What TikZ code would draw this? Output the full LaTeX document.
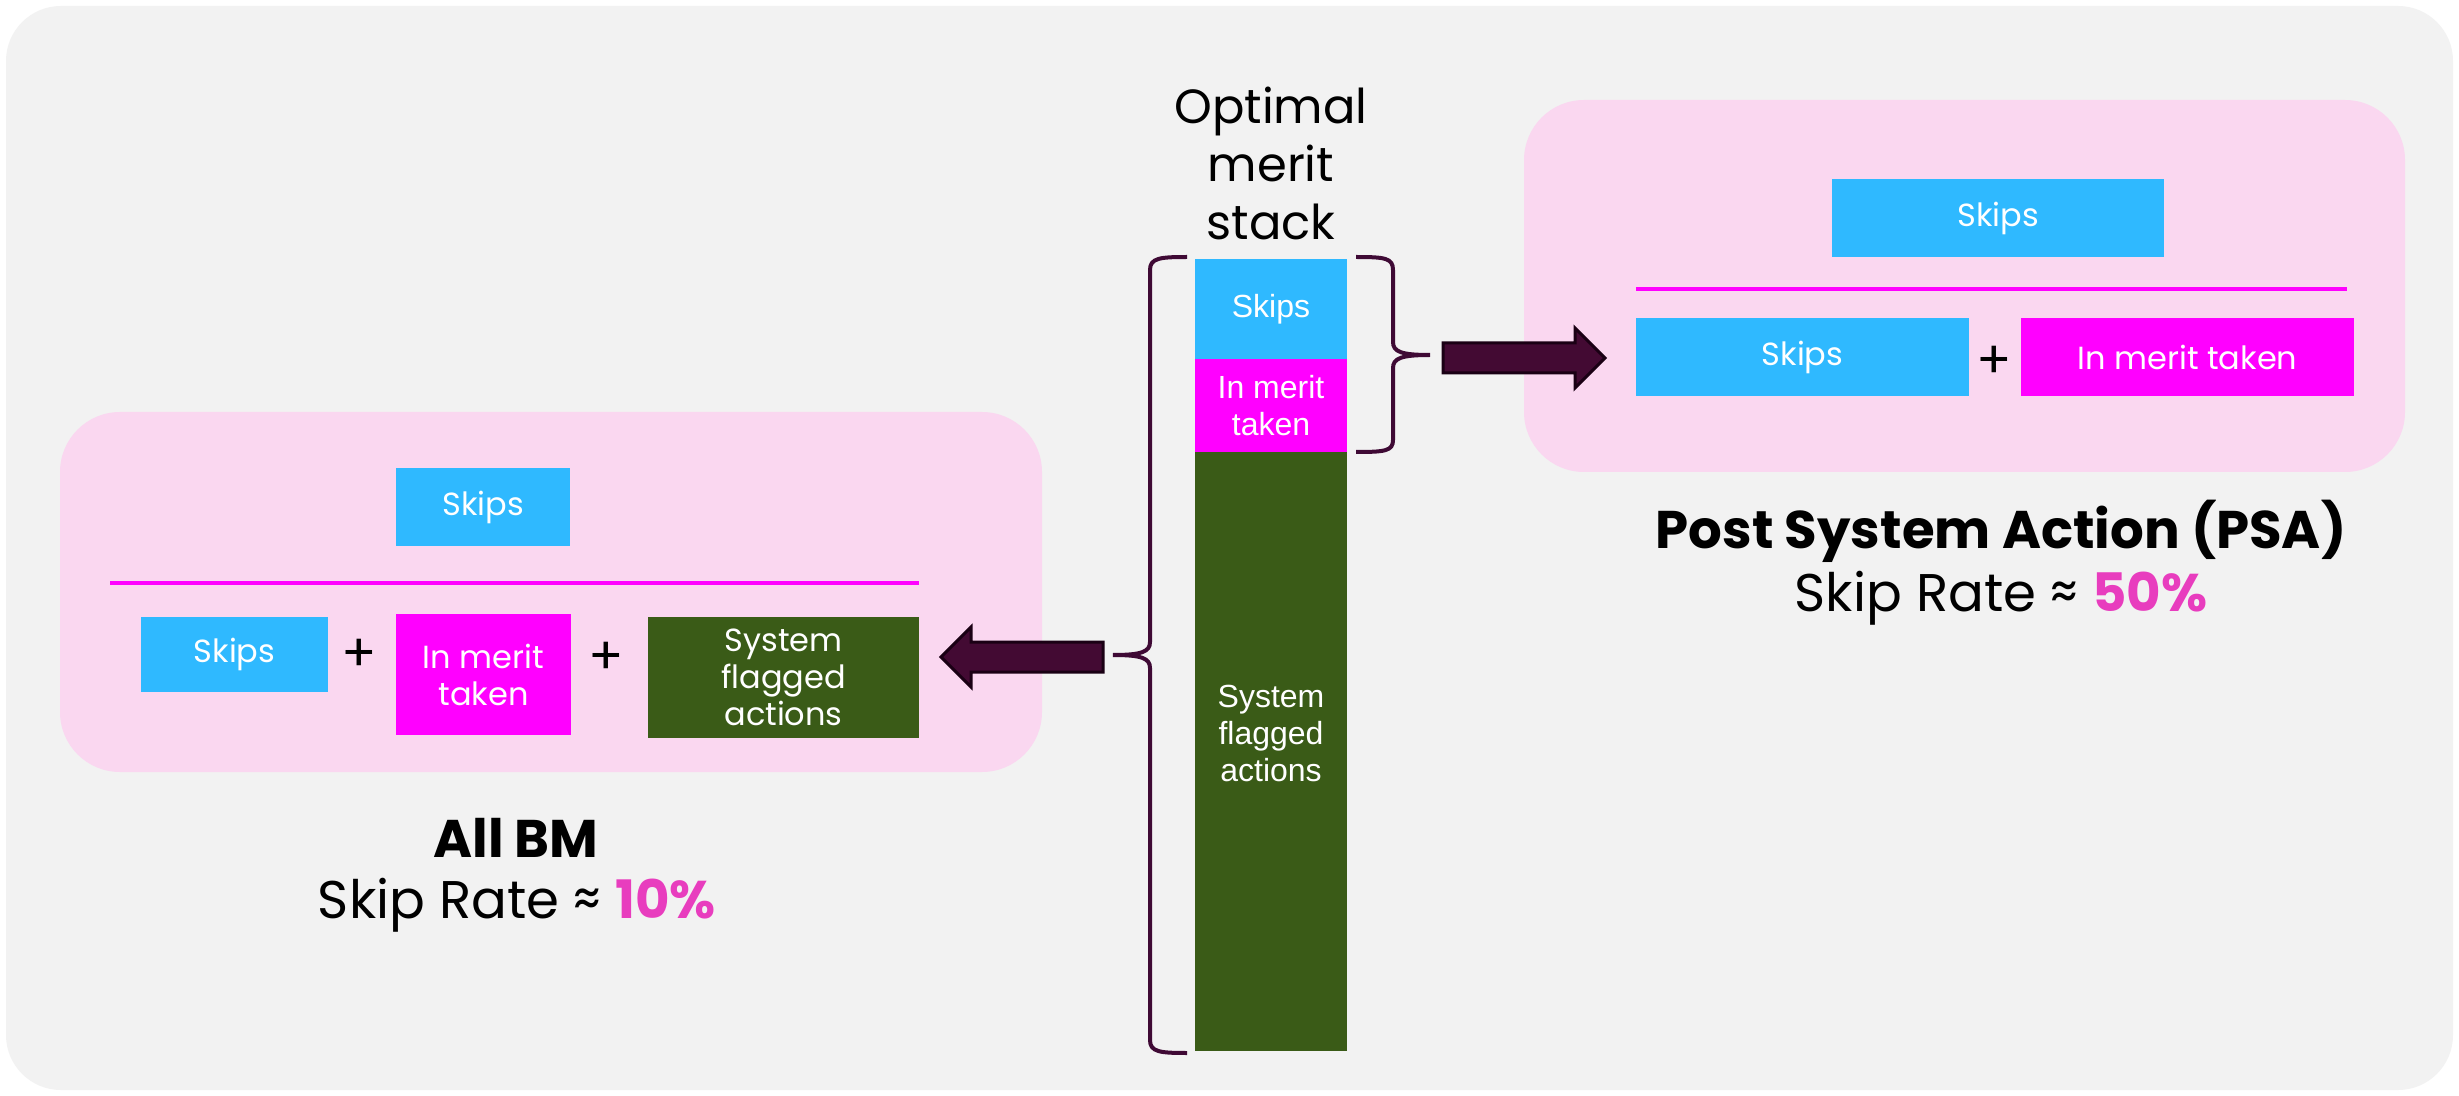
\documentclass[tikz,border=0pt]{standalone}
\usepackage{fontspec}
\setmainfont{Poppins}
\newfontfamily\stackfont{Liberation Sans}
\usetikzlibrary{calc}
\definecolor{bggray}{HTML}{F2F2F2}
\definecolor{panelpink}{HTML}{FAD7F0}
\definecolor{skipblue}{HTML}{2FB9FF}
\definecolor{meritmag}{HTML}{FF00FF}
\definecolor{flaggreen}{HTML}{3A5B17}
\definecolor{bracepurple}{HTML}{3F0A35}
\definecolor{arrowpurple}{HTML}{430A33}
\definecolor{arrowedge}{HTML}{1A0014}
\definecolor{ratepink}{HTML}{E83DBE}

\begin{document}
\begin{tikzpicture}[x=0.5pt,y=-0.5pt,
  panel/.style={fill=panelpink, rounded corners=30pt},
  cell/.style={rectangle, inner sep=0pt, text=white, align=center},
  stackcell/.style={cell, font=\stackfont\fontsize{16}{18.5}\selectfont},
  eqcell/.style={cell, font=\fontsize{16}{18.5}\selectfont},
  plussign/.style={inner sep=0pt, font=\fontsize{26}{30}\selectfont},
  fracbar/.style={draw=meritmag, line width=2pt},
  bracket/.style={draw=bracepurple, line width=2pt},
  blockarrow/.style={fill=arrowpurple, draw=arrowedge, line width=1.5pt, line join=miter},
  titletext/.style={inner sep=0pt, anchor=base, font=\fontsize{26.5}{30}\selectfont\bfseries},
  ratetext/.style={inner sep=0pt, anchor=base, font=\fontsize{26.5}{30}\selectfont},
]
% canvas and rounded backdrop
\fill[white] (0,0) rectangle (2459,1096);
\useasboundingbox (0,0) rectangle (2459,1096);
\fill[bggray, rounded corners=27.5pt] (6,6) rectangle (2453,1090);

% panels
\fill[panel] (60,412) rectangle (1042,772);
\fill[panel] (1524,100) rectangle (2405,472);

% central merit stack
\node[inner sep=0pt, align=center, font=\fontsize{24}{29}\selectfont, anchor=base] (stackTitle) at (1271,240) {Optimal\\merit\\stack};
\node[stackcell, fill=skipblue, minimum width=76pt, minimum height=50pt] (stSkips) at (1271,309) {Skips};
\node[stackcell, fill=meritmag, minimum width=76pt, minimum height=46.5pt] (stMerit) at (1271,405.5) {In merit\\taken};
\node[cell, fill=flaggreen, minimum width=76pt, minimum height=299.5pt] (stFlag) at (1271,751.5) {};
\node[stackcell] (stFlagText) at (1271,733) {System\\flagged\\actions};

% braces
\coordinate (rbTip) at (1430,355);
\coordinate (lbTip) at (1113,655);
\draw[bracket] (1356,257) .. controls (1385,257) and (1393,258) .. (1393,270)
  -- (1393,342) .. controls (1393,352) and (1402,355) .. (rbTip)
  .. controls (1402,355) and (1393,358) .. (1393,368)
  -- (1393,440) .. controls (1393,451) and (1385,452) .. (1356,452);
\draw[bracket] (1187,257) .. controls (1160,257) and (1150,258) .. (1150,270)
  -- (1150,642) .. controls (1150,652) and (1141,655) .. (lbTip)
  .. controls (1141,655) and (1150,658) .. (1150,668)
  -- (1150,1040) .. controls (1150,1052) and (1160,1053) .. (1187,1053);

% block arrows
\coordinate (raTail) at (1443,358);
\coordinate (raTip) at (1605,358);
\draw[blockarrow] ($(raTail)+(0,-15)$) -- ($(raTip)+(-30,-15)$) -- ($(raTip)+(-30,-30)$)
  -- (raTip) -- ($(raTip)+(-30,30)$) -- ($(raTip)+(-30,15)$) -- ($(raTail)+(0,15)$) -- cycle;
\coordinate (laTail) at (1103,657);
\coordinate (laTip) at (941,657);
\draw[blockarrow] ($(laTail)+(0,-15)$) -- ($(laTip)+(30,-15)$) -- ($(laTip)+(30,-30)$)
  -- (laTip) -- ($(laTip)+(30,30)$) -- ($(laTip)+(30,15)$) -- ($(laTail)+(0,15)$) -- cycle;

% PSA ratio
\node[eqcell, fill=skipblue, minimum width=166pt, minimum height=39pt] (rTop) at (1998,218) {Skips};
\coordinate (rBarL) at (1636,289);
\coordinate (rBarR) at (2347,289);
\draw[fracbar] (rBarL) -- (rBarR);
\node[eqcell, fill=skipblue, minimum width=166.5pt, minimum height=39pt] (rSkips) at (1802.5,357) {Skips};
\node[plussign] (rPlus) at (1994,362) {+};
\node[eqcell, fill=meritmag, minimum width=166.5pt, minimum height=39pt] (rMerit) at (2187.5,357) {In merit taken};

% All BM ratio
\node[eqcell, fill=skipblue, minimum width=87pt, minimum height=39pt] (lTop) at (483,507) {Skips};
\coordinate (lBarL) at (110,583);
\coordinate (lBarR) at (919,583);
\draw[fracbar] (lBarL) -- (lBarR);
\node[eqcell, fill=skipblue, minimum width=93.5pt, minimum height=37.5pt] (lSkips) at (234.5,654.5) {Skips};
\node[plussign] (lPlusA) at (359,655) {+};
\node[eqcell, fill=meritmag, minimum width=87.5pt, minimum height=60.5pt] (lMerit) at (483.5,674.5) {In merit\\taken};
\node[plussign] (lPlusB) at (606,658) {+};
\node[eqcell, fill=flaggreen, minimum width=135.5pt, minimum height=60.5pt] (lFlag) at (783.5,677.5) {System\\flagged\\actions};

% captions
\node[titletext] (psaTitle) at (2001,549) {Post System Action (PSA)};
\node[ratetext] (psaRate) at (2001,611) {Skip Rate ≈ {\bfseries\color{ratepink}50\%}};
\node[titletext] (bmTitle) at (516,857) {All BM};
\node[ratetext] (bmRate) at (517,918) {Skip Rate ≈ {\bfseries\color{ratepink}10\%}};
\end{tikzpicture}
\end{document}
